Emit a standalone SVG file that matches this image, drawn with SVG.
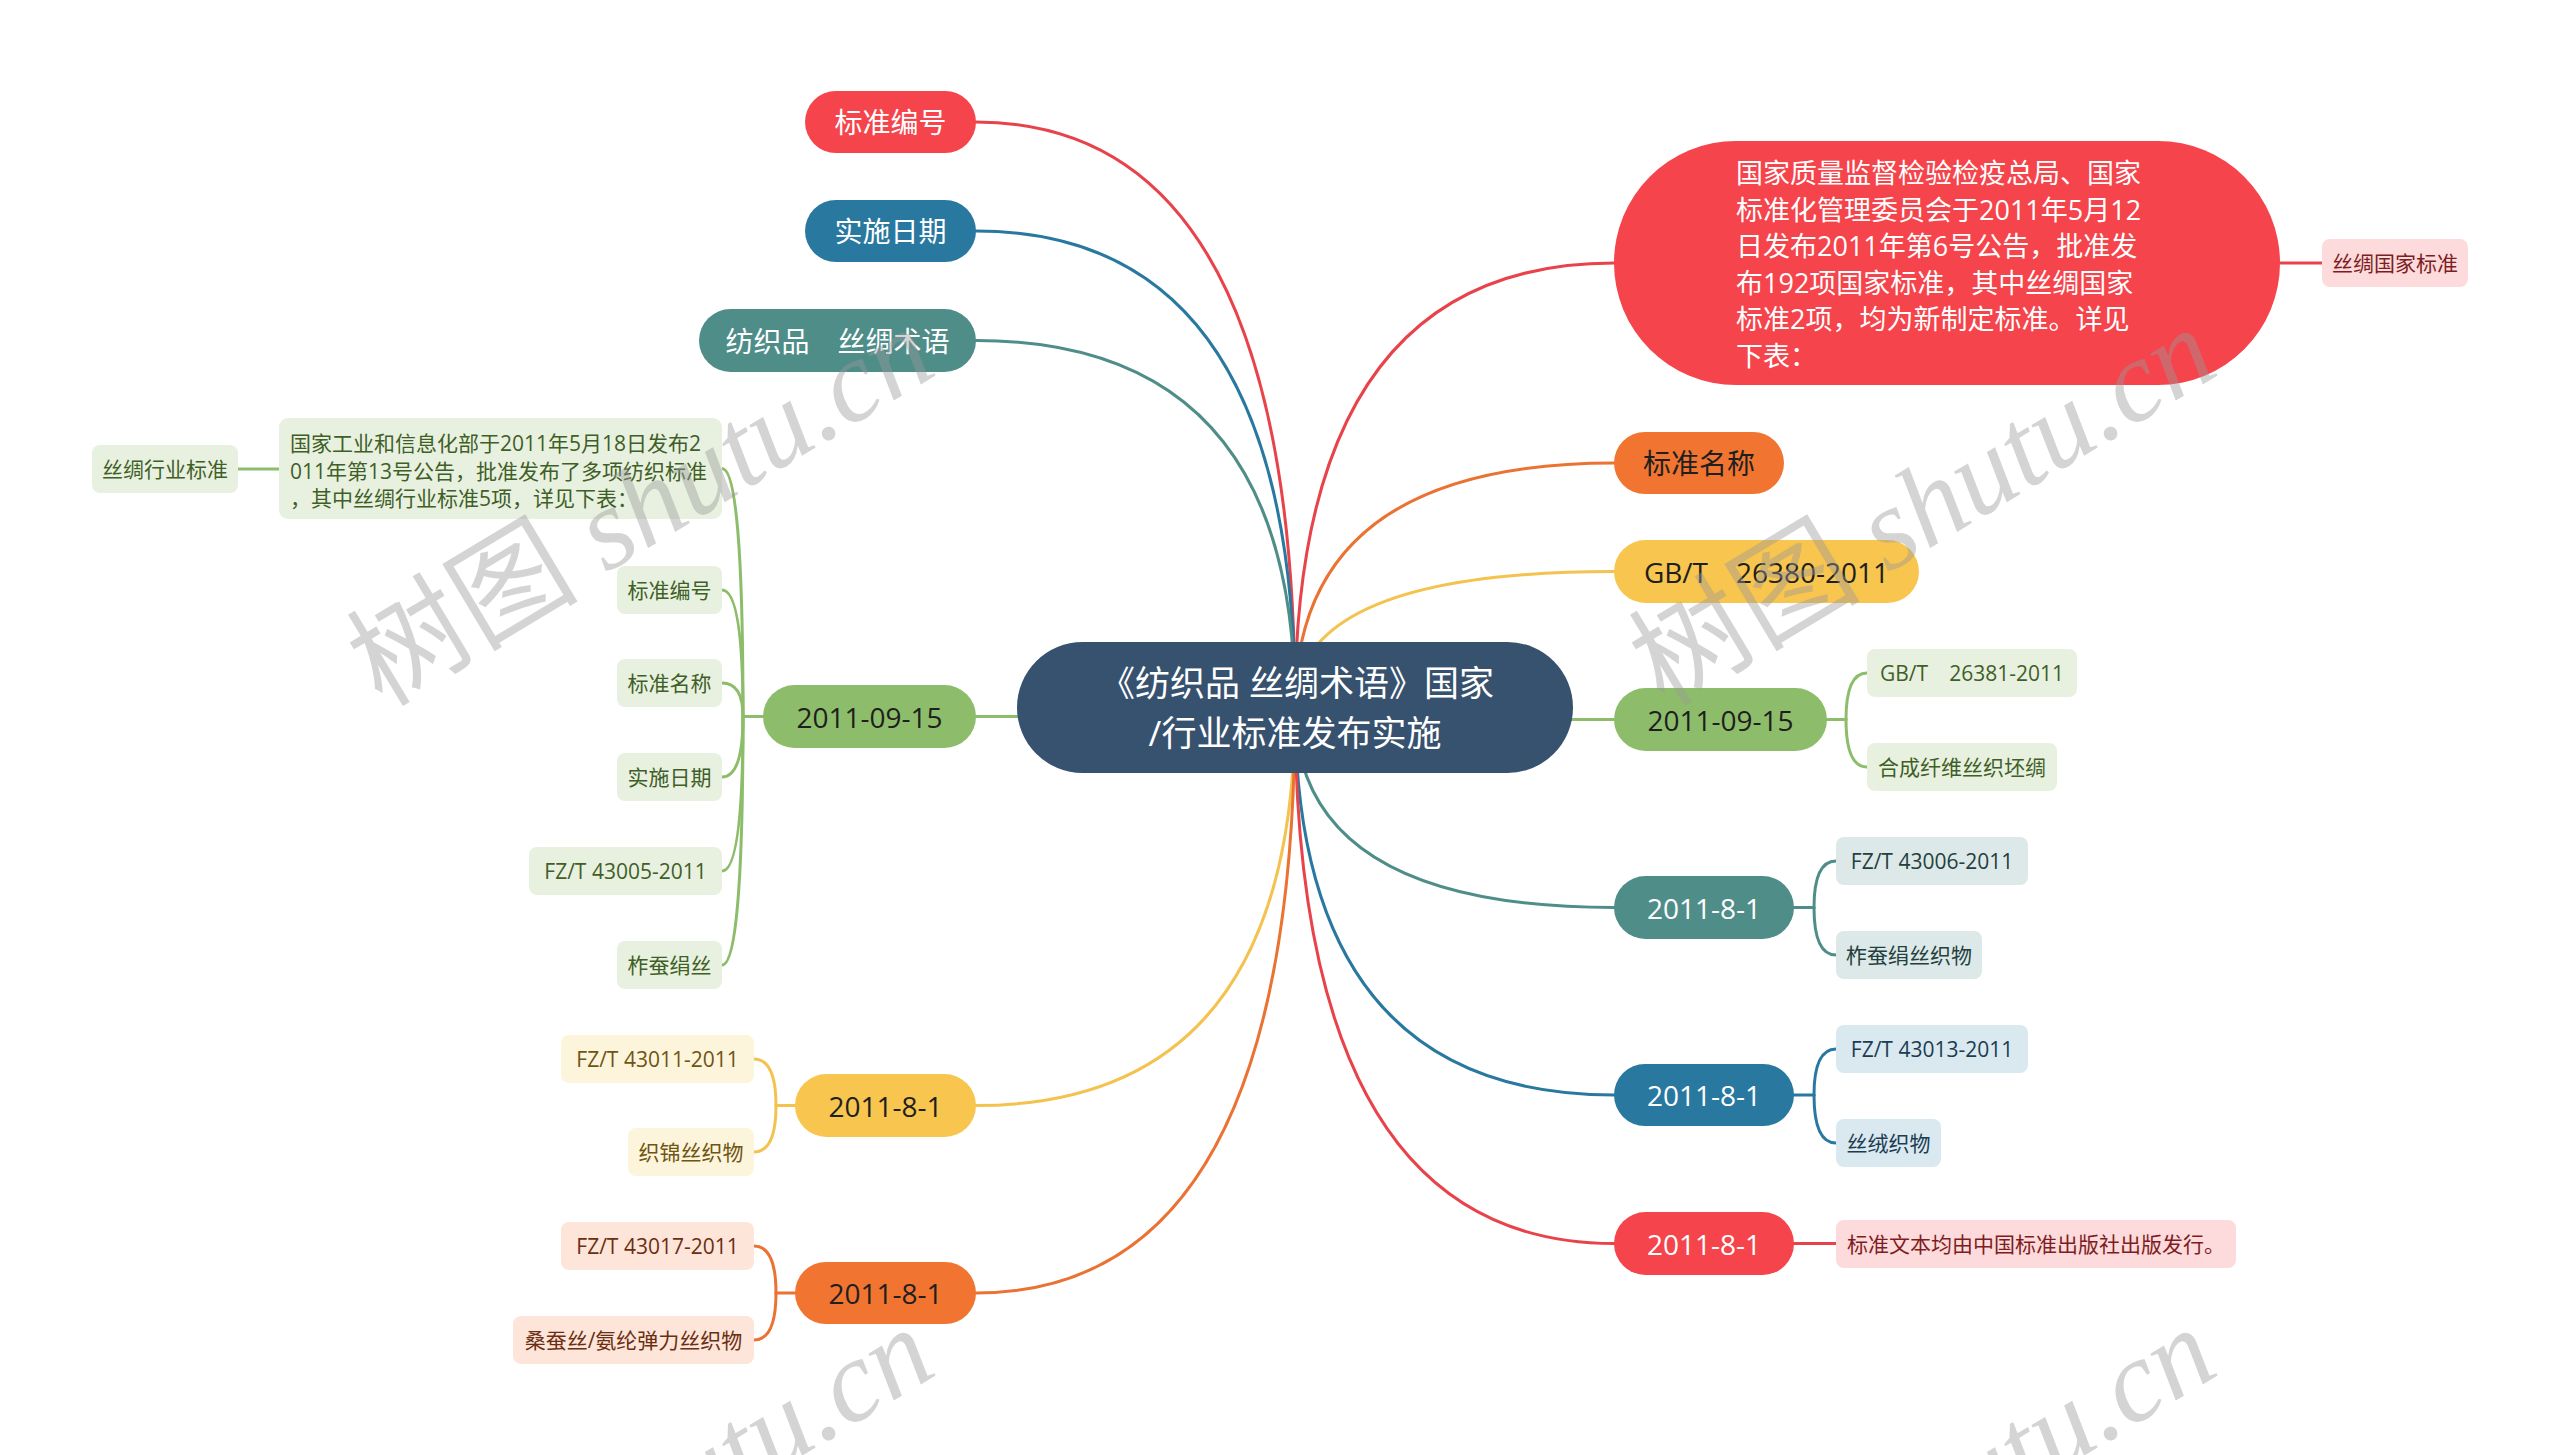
<svg xmlns="http://www.w3.org/2000/svg" width="2560" height="1455" viewBox="0 0 2560 1455">
<style>
.c{fill:none;stroke-width:3;stroke-linecap:round}
.t{font-family:"Open Sans","Noto Sans CJK SC",sans-serif}
.m{font-size:28px;text-anchor:middle;dominant-baseline:central}
.s{font-size:21px;text-anchor:middle;dominant-baseline:central}
.w{fill:#fff}
.dk{fill:#1f1f1f}
.red{fill:#f5444b}.blue{fill:#2878a0}.teal{fill:#4f8d89}.green{fill:#8dbd6a}.yellow{fill:#f8c54f}.orange{fill:#f17530}
.sred{stroke:#e8434a}.sblue{stroke:#2878a0}.steal{stroke:#4f8d89}.sgreen{stroke:#8dbd6a}.syellow{stroke:#f4c24e}.sorange{stroke:#ea7232}
.cg{fill:#e8f1e0}.tg{fill:#3f5f27}
.cy{fill:#fdf4dc}.ty{fill:#6e5512}
.co{fill:#fde6d9}.to{fill:#6b2e12}
.ct{fill:#dde9e8}.tt{fill:#24403e}
.cb{fill:#dae8f0}.tb{fill:#1a3d52}
.cr{fill:#fddadc}.tr{fill:#7d1d22}
.wm{fill:#9a9a9a;opacity:0.42;font-size:116px}
</style>
<rect width="2560" height="1455" fill="#fff"/>
<g id="connectors">
  <path class="c sred" d="M1295 707 Q1295 122 976 122"/>
  <path class="c sblue" d="M1295 707 Q1295 231 976 231"/>
  <path class="c steal" d="M1295 707 Q1295 340.5 976 340.5"/>
  <path class="c sgreen" d="M1295 707 Q1295 716.5 976 716.5"/>
  <path class="c syellow" d="M1295 707 Q1295 1105.5 976 1105.5"/>
  <path class="c sorange" d="M1295 707 Q1295 1293 976 1293"/>
  <path class="c sred" d="M1295 707 Q1295 263 1614 263"/>
  <path class="c sorange" d="M1295 707 Q1295 463 1614 463"/>
  <path class="c syellow" d="M1295 707 Q1295 571.5 1614 571.5"/>
  <path class="c sgreen" d="M1295 707 Q1295 719.5 1614 719.5"/>
  <path class="c steal" d="M1295 707 Q1295 907.5 1614 907.5"/>
  <path class="c sblue" d="M1295 707 Q1295 1095 1614 1095"/>
  <path class="c sred" d="M1295 707 Q1295 1243.5 1614 1243.5"/>
  <path class="c sgreen" d="M763 716.5 H743"/>
  <path class="c sgreen" d="M743 716.5 Q743 468.5 722 468.5"/>
  <path class="c sgreen" d="M743 716.5 Q743 590 722 590"/>
  <path class="c sgreen" d="M743 716.5 Q743 683 722 683"/>
  <path class="c sgreen" d="M743 716.5 Q743 777 722 777"/>
  <path class="c sgreen" d="M743 716.5 Q743 871 722 871"/>
  <path class="c sgreen" d="M743 716.5 Q743 965 722 965"/>
  <path class="c sgreen" d="M279 469 H238"/>
  <path class="c syellow" d="M795 1105.5 H776"/>
  <path class="c syellow" d="M776 1105.5 Q776 1059 754 1059"/>
  <path class="c syellow" d="M776 1105.5 Q776 1152 754 1152"/>
  <path class="c sorange" d="M795 1293 H776"/>
  <path class="c sorange" d="M776 1293 Q776 1246 754 1246"/>
  <path class="c sorange" d="M776 1293 Q776 1340 754 1340"/>
  <path class="c sred" d="M2280 263 H2322"/>
  <path class="c sgreen" d="M1827 719.5 H1846"/>
  <path class="c sgreen" d="M1846 719.5 Q1846 673 1867 673"/>
  <path class="c sgreen" d="M1846 719.5 Q1846 767 1867 767"/>
  <path class="c steal" d="M1794 907.5 H1814"/>
  <path class="c steal" d="M1814 907.5 Q1814 861 1836 861"/>
  <path class="c steal" d="M1814 907.5 Q1814 955 1836 955"/>
  <path class="c sblue" d="M1794 1095 H1814"/>
  <path class="c sblue" d="M1814 1095 Q1814 1049 1836 1049"/>
  <path class="c sblue" d="M1814 1095 Q1814 1143 1836 1143"/>
  <path class="c sred" d="M1794 1243.5 H1836"/>
</g>
<g id="center">
  <rect x="1017" y="642" width="556" height="131" rx="65.5" fill="#37526f"/>
  <text class="t w" x="1297" y="682" font-size="35" text-anchor="middle" dominant-baseline="central">《纺织品 丝绸术语》国家</text>
  <text class="t w" x="1295" y="732" font-size="35" text-anchor="middle" dominant-baseline="central">/行业标准发布实施</text>
</g>
<g id="n_l1"><rect class="red" x="805" y="91" width="171" height="62" rx="31"/><text class="t m w" x="890.5" y="122">标准编号</text></g>
<g id="n_l2"><rect class="blue" x="805" y="200" width="171" height="62" rx="31"/><text class="t m w" x="890.5" y="231">实施日期</text></g>
<g id="n_l3"><rect class="teal" x="699" y="309" width="277" height="63" rx="31.5"/><text class="t m w" x="837.5" y="340.5">纺织品　丝绸术语</text></g>
<g id="n_l4"><rect class="green" x="763" y="685" width="213" height="63" rx="31.5"/><text class="t m dk" x="869.5" y="716.5">2011-09-15</text></g>
<g id="n_l5"><rect class="yellow" x="795" y="1074" width="181" height="63" rx="31.5"/><text class="t m dk" x="885.5" y="1105.5">2011-8-1</text></g>
<g id="n_l6"><rect class="orange" x="795" y="1262" width="181" height="62" rx="31"/><text class="t m dk" x="885.5" y="1293">2011-8-1</text></g>
<g id="n_l4_text">
  <rect class="cg" x="279" y="418" width="443" height="101" rx="9"/>
  <text class="t tg" font-size="21" dominant-baseline="central">
    <tspan x="290" y="443">国家工业和信息化部于2011年5月18日发布2</tspan>
    <tspan x="290" y="470.5">011年第13号公告，批准发布了多项纺织标准</tspan>
    <tspan x="290" y="498">，其中丝绸行业标准5项，详见下表：</tspan>
  </text>
</g>
<g id="n_l4_0"><rect class="cg" x="92" y="445" width="146" height="48" rx="8"/><text class="t s tg" x="165" y="469">丝绸行业标准</text></g>
<g id="n_l4_1"><rect class="cg" x="617" y="566" width="105" height="48" rx="8"/><text class="t s tg" x="669.5" y="590">标准编号</text></g>
<g id="n_l4_2"><rect class="cg" x="617" y="659" width="105" height="48" rx="8"/><text class="t s tg" x="669.5" y="683">标准名称</text></g>
<g id="n_l4_3"><rect class="cg" x="617" y="753" width="105" height="48" rx="8"/><text class="t s tg" x="669.5" y="777">实施日期</text></g>
<g id="n_l4_4"><rect class="cg" x="529" y="847" width="193" height="48" rx="8"/><text class="t s tg" x="625.5" y="871">FZ/T 43005-2011</text></g>
<g id="n_l4_5"><rect class="cg" x="617" y="941" width="105" height="48" rx="8"/><text class="t s tg" x="669.5" y="965">柞蚕绢丝</text></g>
<g id="n_l5_1"><rect class="cy" x="561" y="1035" width="193" height="48" rx="8"/><text class="t s ty" x="657.5" y="1059">FZ/T 43011-2011</text></g>
<g id="n_l5_2"><rect class="cy" x="628" y="1128" width="126" height="48" rx="8"/><text class="t s ty" x="691" y="1152">织锦丝织物</text></g>
<g id="n_l6_1"><rect class="co" x="561" y="1222" width="193" height="48" rx="8"/><text class="t s to" x="657.5" y="1246">FZ/T 43017-2011</text></g>
<g id="n_l6_2"><rect class="co" x="513" y="1316" width="241" height="48" rx="8"/><text class="t s to" x="633.5" y="1340">桑蚕丝/氨纶弹力丝织物</text></g>
<g id="n_r1">
  <rect class="red" x="1614" y="141" width="666" height="244" rx="122"/>
  <text class="t w" font-size="27" dominant-baseline="central">
    <tspan x="1736" y="172">国家质量监督检验检疫总局、国家</tspan>
    <tspan x="1736" y="208.5">标准化管理委员会于2011年5月12</tspan>
    <tspan x="1736" y="245">日发布2011年第6号公告，批准发</tspan>
    <tspan x="1736" y="281.5">布192项国家标准，其中丝绸国家</tspan>
    <tspan x="1736" y="318">标准2项，均为新制定标准。详见</tspan>
    <tspan x="1736" y="354.5">下表：</tspan>
  </text>
</g>
<g id="n_r1_1"><rect class="cr" x="2322" y="239" width="146" height="48" rx="8"/><text class="t s tr" x="2395" y="263">丝绸国家标准</text></g>
<g id="n_r2"><rect class="orange" x="1614" y="432" width="170" height="62" rx="31"/><text class="t m dk" x="1699" y="463">标准名称</text></g>
<g id="n_r3"><rect class="yellow" x="1614" y="540" width="305" height="63" rx="31.5"/><text class="t m dk" x="1766.5" y="571.5">GB/T　26380-2011</text></g>
<g id="n_r4"><rect class="green" x="1614" y="688" width="213" height="63" rx="31.5"/><text class="t m dk" x="1720.5" y="719.5">2011-09-15</text></g>
<g id="n_r4_1"><rect class="cg" x="1867" y="649" width="210" height="48" rx="8"/><text class="t s tg" x="1972" y="673">GB/T　26381-2011</text></g>
<g id="n_r4_2"><rect class="cg" x="1867" y="743" width="190" height="48" rx="8"/><text class="t s tg" x="1962" y="767">合成纤维丝织坯绸</text></g>
<g id="n_r5"><rect class="teal" x="1614" y="876" width="180" height="63" rx="31.5"/><text class="t m w" x="1704" y="907.5">2011-8-1</text></g>
<g id="n_r5_1"><rect class="ct" x="1836" y="837" width="192" height="48" rx="8"/><text class="t s tt" x="1932" y="861">FZ/T 43006-2011</text></g>
<g id="n_r5_2"><rect class="ct" x="1836" y="931" width="146" height="48" rx="8"/><text class="t s tt" x="1909" y="955">柞蚕绢丝织物</text></g>
<g id="n_r6"><rect class="blue" x="1614" y="1064" width="180" height="62" rx="31"/><text class="t m w" x="1704" y="1095">2011-8-1</text></g>
<g id="n_r6_1"><rect class="cb" x="1836" y="1025" width="192" height="48" rx="8"/><text class="t s tb" x="1932" y="1049">FZ/T 43013-2011</text></g>
<g id="n_r6_2"><rect class="cb" x="1836" y="1119" width="105" height="48" rx="8"/><text class="t s tb" x="1888.5" y="1143">丝绒织物</text></g>
<g id="n_r7"><rect class="red" x="1614" y="1212" width="180" height="63" rx="31.5"/><text class="t m w" x="1704" y="1243.5">2011-8-1</text></g>
<g id="n_r7_1"><rect class="cr" x="1836" y="1220" width="400" height="48" rx="8"/><text class="t s tr" x="2036" y="1244">标准文本均由中国标准出版社出版发行。</text></g>
<g id="watermarks">
  <text class="wm" transform="translate(382,708) rotate(-31)"><tspan font-family="Noto Sans CJK SC,sans-serif">树图</tspan><tspan font-family="Liberation Serif,serif" font-style="italic"> shutu.cn</tspan></text>
  <text class="wm" transform="translate(1664,708) rotate(-31)"><tspan font-family="Noto Sans CJK SC,sans-serif">树图</tspan><tspan font-family="Liberation Serif,serif" font-style="italic"> shutu.cn</tspan></text>
  <text class="wm" transform="translate(382,1708) rotate(-31)"><tspan font-family="Noto Sans CJK SC,sans-serif">树图</tspan><tspan font-family="Liberation Serif,serif" font-style="italic"> shutu.cn</tspan></text>
  <text class="wm" transform="translate(1664,1708) rotate(-31)"><tspan font-family="Noto Sans CJK SC,sans-serif">树图</tspan><tspan font-family="Liberation Serif,serif" font-style="italic"> shutu.cn</tspan></text>
</g>
</svg>
